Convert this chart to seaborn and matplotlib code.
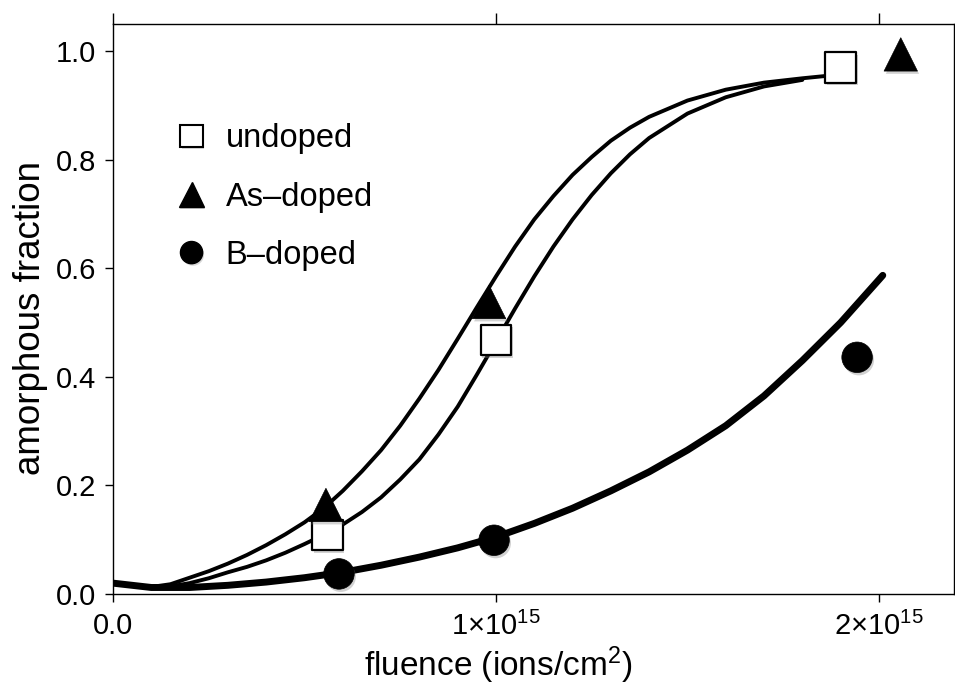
import matplotlib
matplotlib.use("Agg")
import matplotlib.pyplot as plt
import matplotlib.patheffects as pe
from matplotlib.lines import Line2D
import seaborn as sns

# ---- data (fluence in units of 1e15 ions/cm^2) ----
undoped_x = [0.56, 1.00, 1.90]
undoped_y = [0.109, 0.468, 0.970]
as_x = [0.556, 0.982, 2.057]
as_y = [0.164, 0.538, 0.994]
b_x = [0.590, 0.995, 1.943]
b_y = [0.037, 0.099, 0.436]

# fitted curves
fit_x = [0.0, 0.05, 0.1, 0.15, 0.2, 0.25, 0.3, 0.35, 0.4, 0.45, 0.5, 0.55,
         0.6, 0.65, 0.7, 0.75, 0.8, 0.85, 0.9, 0.95, 1.0, 1.05, 1.1, 1.15,
         1.2, 1.25, 1.3, 1.35, 1.4, 1.5, 1.6, 1.7, 1.8]
fit_undoped_y = [0.020, 0.015, 0.012, 0.014, 0.020, 0.029, 0.040, 0.050, 0.062,
                 0.076, 0.092, 0.109, 0.128, 0.151, 0.178, 0.211, 0.248, 0.294,
                 0.345, 0.404, 0.465, 0.526, 0.585, 0.640, 0.690, 0.735, 0.775,
                 0.810, 0.840, 0.885, 0.915, 0.935, 0.947]
fit_as_x = fit_x + [1.9]
fit_as_y = [0.020, 0.016, 0.013, 0.018, 0.030, 0.042, 0.056, 0.072, 0.090,
            0.110, 0.132, 0.158, 0.190, 0.226, 0.265, 0.310, 0.360, 0.413,
            0.470, 0.528, 0.585, 0.640, 0.690, 0.733, 0.772, 0.805, 0.835,
            0.859, 0.879, 0.909, 0.929, 0.942, 0.950, 0.957]
fit_b_x = [0.0, 0.1, 0.2, 0.3, 0.4, 0.5, 0.6, 0.7, 0.8, 0.9, 1.0, 1.1, 1.2,
           1.3, 1.4, 1.5, 1.6, 1.7, 1.8, 1.9, 2.0, 2.01]
fit_b_y = [0.020, 0.012, 0.012, 0.016, 0.022, 0.030, 0.040, 0.053, 0.068,
           0.085, 0.105, 0.130, 0.158, 0.190, 0.225, 0.265, 0.310, 0.365,
           0.430, 0.500, 0.579, 0.587]

xticks = [0.0, 1.0, 2.0]
xticklabels = ["0.0", r"$\mathregular{1{\times}10^{15}}$", r"$\mathregular{2{\times}10^{15}}$"]
yticks = [0.0, 0.2, 0.4, 0.6, 0.8, 1.0]
yticklabels = ["0.0", "0.2", "0.4", "0.6", "0.8", "1.0"]
labels = ["undoped", "As\u2013doped", "B\u2013doped"]

sns.set_style("ticks")
plt.rcParams["font.family"] = ["Liberation Sans", "DejaVu Sans"]
plt.rcParams["mathtext.fontset"] = "custom"
plt.rcParams["mathtext.rm"] = "Liberation Sans"
plt.rcParams["mathtext.it"] = "Liberation Sans:italic"
plt.rcParams["mathtext.bf"] = "Liberation Sans:bold"
for k in ["text.color", "axes.labelcolor", "xtick.color", "ytick.color", "axes.edgecolor"]:
    plt.rcParams[k] = "black"

fig = plt.figure(figsize=(9.55, 6.88), dpi=100)
ax = fig.add_axes([113 / 955, 1 - 594 / 688, 841 / 955, 570 / 688])

# curves
sns.lineplot(x=fit_as_x, y=fit_as_y, ax=ax, color="black", lw=2.8, sort=False,
             solid_capstyle="round", zorder=2)
sns.lineplot(x=fit_x, y=fit_undoped_y, ax=ax, color="black", lw=2.8, sort=False,
             solid_capstyle="round", zorder=2)
sns.lineplot(x=fit_b_x, y=fit_b_y, ax=ax, color="black", lw=5.0, sort=False,
             solid_capstyle="round", zorder=2)

shadow = [pe.SimplePatchShadow(offset=(1.2, -2.0), shadow_rgbFace="0.5", alpha=0.35),
          pe.Normal()]

sns.scatterplot(x=undoped_x, y=undoped_y, ax=ax, marker="s", s=22 ** 2,
                facecolor="white", edgecolor="black", linewidth=1.6, zorder=4,
                path_effects=shadow)
sns.scatterplot(x=as_x, y=as_y, ax=ax, marker="^", s=24 ** 2,
                color="black", edgecolor="black", linewidth=0.5, zorder=4,
                path_effects=shadow)
sns.scatterplot(x=b_x, y=b_y, ax=ax, marker="o", s=22 ** 2,
                color="black", edgecolor="black", linewidth=0.5, zorder=4,
                path_effects=shadow)

ax.set_xlim(0, 2.196)
ax.set_ylim(0, 1.05)
ax.set_xticks(xticks)
ax.set_xticklabels(xticklabels)
ax.set_yticks(yticks)
ax.set_yticklabels(yticklabels)

for s in ax.spines.values():
    s.set_visible(True)
    s.set_linewidth(1.0)
    s.set_color("black")

ax.tick_params(axis="both", labelsize=21, width=1.0, color="black",
               labelcolor="black", direction="out")
ax.tick_params(axis="x", top=True, labeltop=False, length=6, pad=7)
ax.tick_params(axis="y", left=True, right=False, length=6, pad=6)
for t in ax.xaxis.get_major_ticks():
    t.tick2line.set_markersize(8)

ax.set_xlabel(r"fluence (ions/cm$^{\mathregular{2}}$)", fontsize=24)
ax.set_ylabel("amorphous fraction", fontsize=26.5)
ax.xaxis.set_label_coords(0.458, -0.088)
ax.yaxis.set_label_coords(-0.077, 0.485)

leg_shadow = [pe.SimplePatchShadow(offset=(1.0, -1.5), shadow_rgbFace="0.5", alpha=0.3),
              pe.Normal()]
handles = [
    Line2D([], [], ls="none", marker="s", ms=16, mfc="white", mec="black", mew=1.5,
           path_effects=leg_shadow),
    Line2D([], [], ls="none", marker="^", ms=18, mfc="black", mec="black",
           path_effects=leg_shadow),
    Line2D([], [], ls="none", marker="o", ms=16, mfc="black", mec="black",
           path_effects=leg_shadow),
]
ax.legend(handles, labels, loc="upper left", bbox_to_anchor=(0.074, 0.826),
          frameon=False, fontsize=23.5, handlelength=1.0, handletextpad=0.55,
          labelspacing=0.84, borderpad=0, borderaxespad=0)

fig.savefig("out.png", dpi=100)
